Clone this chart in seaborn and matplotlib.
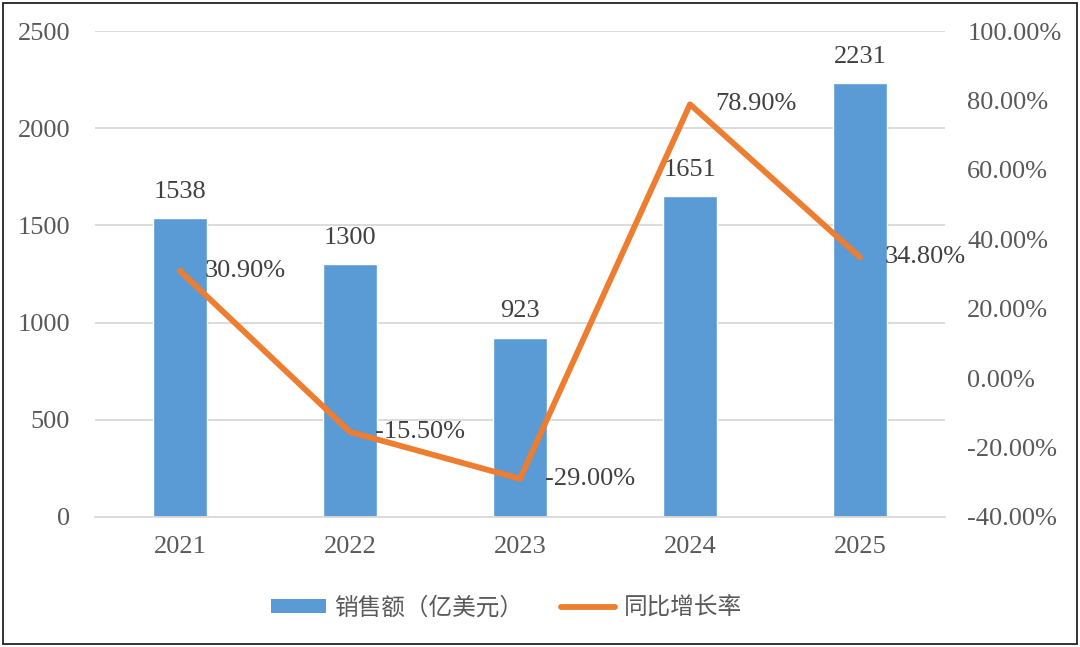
import matplotlib
matplotlib.use("Agg")
import matplotlib.pyplot as plt
import seaborn as sns
import numpy as np
from matplotlib.patches import Patch, Rectangle
from matplotlib.lines import Line2D

years = ["2021", "2022", "2023", "2024", "2025"]
sales = [1538, 1300, 923, 1651, 2231]
growth = [30.90, -15.50, -29.00, 78.90, 34.80]
growth_labels = ["30.90%", "-15.50%", "-29.00%", "78.90%", "34.80%"]
left_ticks = [0, 500, 1000, 1500, 2000, 2500]
right_ticks = [-40, -20, 0, 20, 40, 60, 80, 100]
legend_labels = ["销售额（亿美元）", "同比增长率"]

sns.set_theme(style="white")
plt.rcParams['font.family'] = ['Liberation Serif', 'Noto Sans CJK SC']

BLUE = "#5B9BD5"
ORANGE = "#ED7D31"
TXT = "#595959"
GRID = "#D9D9D9"

fig = plt.figure(figsize=(10.8, 6.47), dpi=100)
ax = fig.add_axes([0.088, 0.201, 0.787, 0.751])

sns.barplot(x=years, y=sales, color=BLUE, width=0.32, ax=ax, saturation=1)
ax.set_ylim(0, 2500)
ax.set_yticks(left_ticks)
ax.set_xlim(-0.5, 4.5)
ax.yaxis.grid(True, color=GRID, linewidth=1.3)
ax.set_axisbelow(True)
for s in ["top", "right", "left"]:
    ax.spines[s].set_visible(False)
ax.spines["bottom"].set_color(GRID)
ax.spines["bottom"].set_linewidth(1.3)
ax.tick_params(axis="both", length=0, labelsize=19, colors=TXT)
ax.tick_params(axis="y", pad=18)
ax.tick_params(axis="x", pad=14)
ax.set_xlabel("")
ax.set_ylabel("")

for i, v in enumerate(sales):
    ax.annotate(str(v), (i, v), xytext=(0, 11), textcoords="offset points",
                ha="center", va="bottom", fontsize=19, color="#404040")

ax2 = ax.twinx()
sns.lineplot(x=np.arange(len(years)), y=growth, ax=ax2, color=ORANGE,
             linewidth=4.2, solid_capstyle="round")
ax2.set_ylim(-40, 100)
ax2.set_yticks(right_ticks)
ax2.set_yticklabels([f"{t:.2f}%" for t in right_ticks])
ax2.tick_params(axis="y", length=0, labelsize=19, colors=TXT, pad=16)
for s in ax2.spines.values():
    s.set_visible(False)
ax2.set_ylabel("")

for i, (v, lab) in enumerate(zip(growth, growth_labels)):
    ax2.annotate(lab, (i, v), xytext=(18, 0), textcoords="offset points",
                 ha="left", va="center", fontsize=19, color="#404040")

handles = [Patch(facecolor=BLUE, edgecolor="none"),
           Line2D([0], [0], color=ORANGE, linewidth=4.2, solid_capstyle="round")]
leg = fig.legend(handles, legend_labels, loc="center", bbox_to_anchor=(0.469, 0.06),
                 ncol=2, frameon=False, handlelength=2.3, handleheight=0.55,
                 columnspacing=1.6, handletextpad=0.35,
                 prop={"family": "Noto Sans CJK SC", "size": 17})
for t in leg.get_texts():
    t.set_color(TXT)

fig.patches.append(Rectangle((0.003, 0.005), 0.994, 0.99, transform=fig.transFigure,
                             fill=False, edgecolor="#222222", linewidth=1.3))

fig.savefig("out.png", dpi=100)
